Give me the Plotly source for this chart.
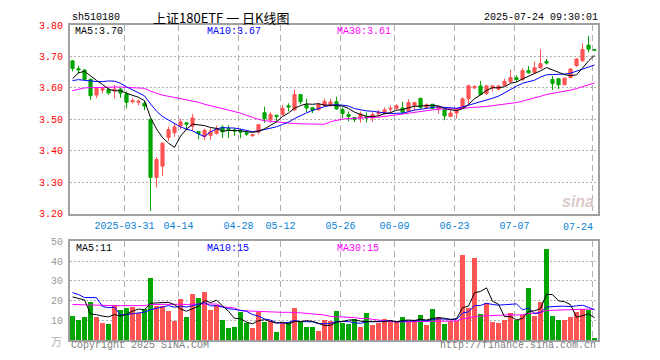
import math
import plotly.graph_objects as go
import numpy as np

# ---------------- data ----------------
dates = [
    "2025-03-18", "2025-03-19", "2025-03-20", "2025-03-21", "2025-03-24", "2025-03-25", "2025-03-26", "2025-03-27",
    "2025-03-28", "2025-03-31", "2025-04-01", "2025-04-02", "2025-04-03", "2025-04-07", "2025-04-08", "2025-04-09",
    "2025-04-10", "2025-04-11", "2025-04-14", "2025-04-15", "2025-04-16", "2025-04-17", "2025-04-18", "2025-04-21",
    "2025-04-22", "2025-04-23", "2025-04-24", "2025-04-25", "2025-04-28", "2025-04-29", "2025-04-30", "2025-05-06",
    "2025-05-07", "2025-05-08", "2025-05-09", "2025-05-12", "2025-05-13", "2025-05-14", "2025-05-15", "2025-05-16",
    "2025-05-19", "2025-05-20", "2025-05-21", "2025-05-22", "2025-05-23", "2025-05-26", "2025-05-27", "2025-05-28",
    "2025-05-29", "2025-05-30", "2025-06-03", "2025-06-04", "2025-06-05", "2025-06-06", "2025-06-09", "2025-06-10",
    "2025-06-11", "2025-06-12", "2025-06-13", "2025-06-16", "2025-06-17", "2025-06-18", "2025-06-19", "2025-06-20",
    "2025-06-23", "2025-06-24", "2025-06-25", "2025-06-26", "2025-06-27", "2025-06-30", "2025-07-01", "2025-07-02",
    "2025-07-03", "2025-07-04", "2025-07-07", "2025-07-08", "2025-07-09", "2025-07-10", "2025-07-11", "2025-07-14",
    "2025-07-15", "2025-07-16", "2025-07-17", "2025-07-18", "2025-07-21", "2025-07-22", "2025-07-23", "2025-07-24",
]

opens = [
    3.686, 3.661, 3.657, 3.627, 3.577, 3.593, 3.595, 3.592, 3.596, 3.581,
    3.556, 3.554, 3.551, 3.500, 3.315, 3.351, 3.442, 3.457, 3.479, 3.489,
    3.478, 3.461, 3.445, 3.449, 3.455, 3.475, 3.470, 3.466, 3.463, 3.457,
    3.448, 3.459, 3.521, 3.498, 3.513, 3.515, 3.543, 3.530, 3.579, 3.546,
    3.537, 3.530, 3.544, 3.545, 3.556, 3.531, 3.515, 3.506, 3.504, 3.509,
    3.504, 3.518, 3.519, 3.532, 3.535, 3.536, 3.526, 3.543, 3.567, 3.538,
    3.548, 3.533, 3.530, 3.509, 3.520, 3.538, 3.565, 3.600, 3.606, 3.582,
    3.602, 3.596, 3.608, 3.619, 3.632, 3.626, 3.655, 3.649, 3.664, 3.684,
    3.627, 3.629, 3.610, 3.633, 3.671, 3.686, 3.736, 3.721,
]
highs = [
    3.688, 3.670, 3.659, 3.630, 3.603, 3.601, 3.600, 3.610, 3.601, 3.589,
    3.567, 3.563, 3.558, 3.500, 3.380, 3.426, 3.477, 3.486, 3.502, 3.489,
    3.517, 3.461, 3.470, 3.472, 3.480, 3.481, 3.481, 3.471, 3.470, 3.462,
    3.454, 3.484, 3.540, 3.523, 3.513, 3.546, 3.551, 3.595, 3.580, 3.565,
    3.538, 3.553, 3.566, 3.566, 3.572, 3.538, 3.525, 3.506, 3.525, 3.522,
    3.523, 3.530, 3.538, 3.544, 3.548, 3.556, 3.564, 3.556, 3.567, 3.550,
    3.548, 3.544, 3.530, 3.530, 3.537, 3.570, 3.610, 3.608, 3.622, 3.610,
    3.608, 3.610, 3.629, 3.658, 3.640, 3.663, 3.669, 3.684, 3.723, 3.692,
    3.638, 3.629, 3.631, 3.663, 3.695, 3.742, 3.765, 3.721,
]
lows = [
    3.652, 3.645, 3.626, 3.562, 3.567, 3.583, 3.578, 3.566, 3.568, 3.535,
    3.550, 3.544, 3.529, 3.208, 3.283, 3.320, 3.431, 3.444, 3.468, 3.465,
    3.462, 3.437, 3.434, 3.434, 3.451, 3.441, 3.441, 3.447, 3.440, 3.447,
    3.444, 3.452, 3.489, 3.489, 3.492, 3.512, 3.525, 3.527, 3.548, 3.523,
    3.520, 3.527, 3.540, 3.540, 3.530, 3.504, 3.494, 3.491, 3.489, 3.490,
    3.492, 3.506, 3.515, 3.520, 3.531, 3.519, 3.525, 3.527, 3.533, 3.533,
    3.532, 3.517, 3.497, 3.507, 3.502, 3.535, 3.548, 3.596, 3.577, 3.577,
    3.588, 3.592, 3.606, 3.616, 3.619, 3.623, 3.645, 3.646, 3.660, 3.674,
    3.593, 3.596, 3.608, 3.629, 3.667, 3.683, 3.713, 3.720,
]
closes = [
    3.662, 3.657, 3.627, 3.575, 3.598, 3.597, 3.584, 3.596, 3.583, 3.554,
    3.560, 3.557, 3.542, 3.315, 3.372, 3.424, 3.467, 3.476, 3.492, 3.484,
    3.504, 3.455, 3.465, 3.462, 3.469, 3.460, 3.467, 3.463, 3.459, 3.453,
    3.451, 3.483, 3.502, 3.515, 3.509, 3.535, 3.539, 3.579, 3.556, 3.536,
    3.529, 3.548, 3.557, 3.555, 3.533, 3.518, 3.509, 3.499, 3.517, 3.504,
    3.515, 3.522, 3.530, 3.535, 3.543, 3.523, 3.553, 3.553, 3.538, 3.546,
    3.535, 3.540, 3.511, 3.520, 3.532, 3.565, 3.607, 3.604, 3.579, 3.606,
    3.606, 3.606, 3.621, 3.633, 3.627, 3.655, 3.648, 3.664, 3.677, 3.679,
    3.614, 3.610, 3.631, 3.660, 3.692, 3.722, 3.723, 3.720,
]
volumes = [
    12, 10, 11.5, 19, 11.5, 8.5, 8, 17.5, 15, 16,
    16.5, 13.5, 15.5, 31.5, 17, 17, 14.5, 9.5, 20.5, 11.5,
    23, 21, 24, 15, 17.5, 10, 6, 6.5, 14, 8.5,
    6, 14, 9, 9.5, 4, 8.5, 9, 16, 9, 6.5,
    6.5, 4.5, 10, 9.5, 14.5, 8.5, 8, 10.3, 6.5, 13.5,
    7.5, 8.5, 10.5, 9.5, 9.5, 11.5, 9.5, 9.5, 12.5, 7.5,
    15.5, 11.5, 8, 9.5, 9.5, 43, 16, 41.5, 13, 18.5,
    9, 8.5, 10, 13.5, 10, 12.5, 26, 12, 19, 46,
    12, 10, 10, 11.5, 14, 15.5, 15, 0.5,
]
# sessions before the visible window (estimated), needed for the moving averages
prior_closes = [
    3.50, 3.52, 3.55, 3.57, 3.58, 3.59, 3.57, 3.58, 3.60, 3.59,
    3.58, 3.57, 3.59, 3.60, 3.58, 3.57, 3.59, 3.58, 3.60, 3.59,
    3.625, 3.650, 3.600, 3.610, 3.600, 3.563, 3.603, 3.650, 3.667,
]
prior_volumes = [
    14, 16, 15, 13, 17, 15, 14, 16, 15, 15,
    14, 16, 15, 15, 14, 16, 15, 15, 15, 15,
    20, 26.5, 19, 12, 53.5, 13.5, 15.5, 55, 13,
]
tick_dates = ["2025-03-31", "2025-04-14", "2025-04-28", "2025-05-12", "2025-05-26",
              "2025-06-09", "2025-06-23", "2025-07-07", "2025-07-24"]
tick_labels = ["2025-03-31", "04-14", "04-28", "05-12", "05-26", "06-09", "06-23", "07-07", "07-24"]
price_ticks = [3.20, 3.30, 3.40, 3.50, 3.60, 3.70, 3.80]
volume_ticks = [10, 20, 30, 40, 50]
symbol = "sh510180"
title_text = "上证180ETF 一 日K线图"
timestamp = "2025-07-24 09:30:01"

# ---------------- derived ----------------
n = len(dates)
xi = np.arange(n)
allc = np.array(prior_closes + closes, dtype=float)
allv = np.array(prior_volumes + volumes, dtype=float)
P = len(prior_closes)


def ma(arr, k):
    return np.array([arr[P + i - k + 1:P + i + 1].mean() for i in range(n)])


def trunc(v, d):
    f = 10 ** d
    return math.floor(v * f + 1e-9) / f


ma5, ma10, ma30 = ma(allc, 5), ma(allc, 10), ma(allc, 30)
vma5, vma10, vma30 = ma(allv, 5), ma(allv, 10), ma(allv, 30)

RED = "#ff5454"
GREEN = "#00a600"
MA_COLORS = ["#000000", "#0000ff", "#ff00ff"]
GRID = "#b0b0b0"
FRAME = "#a0a0a0"
MONO = "Liberation Mono, DejaVu Sans Mono, monospace"
TICKBLUE = "#0a7fd2"

bar_colors = [RED if c >= o else GREEN for o, c in zip(opens, closes)]

fig = go.Figure()
fig.add_trace(go.Candlestick(
    x=xi, open=opens, high=highs, low=lows, close=closes,
    increasing=dict(line=dict(color=RED, width=1), fillcolor=RED),
    decreasing=dict(line=dict(color=GREEN, width=1), fillcolor=GREEN),
    whiskerwidth=0, showlegend=False, hoverinfo="skip", xaxis="x", yaxis="y"))
for arr, col in zip([ma30, ma10, ma5], MA_COLORS[::-1]):
    fig.add_trace(go.Scatter(x=xi, y=arr, mode="lines", line=dict(color=col, width=1),
                             showlegend=False, hoverinfo="skip", xaxis="x", yaxis="y"))

fig.add_trace(go.Bar(x=xi, y=volumes, marker=dict(color=bar_colors, line=dict(width=0)),
                     width=0.82, showlegend=False, hoverinfo="skip", xaxis="x2", yaxis="y2"))
for arr, col in zip([vma30, vma10, vma5], MA_COLORS[::-1]):
    fig.add_trace(go.Scatter(x=xi, y=arr, mode="lines", line=dict(color=col, width=1),
                             showlegend=False, hoverinfo="skip", xaxis="x2", yaxis="y2"))

# page geometry (the page body adds an 8px offset to the figure)
OFF = 8
W, H = 660 - OFF, 360 - OFF
PL, PR, PT, PB = 70, 598, 21, 340          # plot frame in page pixels
L, T = PL - OFF, PT - OFF
R, B = W - (PR - OFF), H - (PB - OFF)
pw, ph = PR - PL, PB - PT


def px_x(p):
    return (p - PL) / pw


def px_y(p):
    return (PB - p) / ph


tick_pos = [dates.index(d) - 0.35 for d in tick_dates]
xr = [-0.42, n - 1 + 0.58]

common_x = dict(range=xr, showgrid=True, gridcolor=GRID, griddash="6px,4px", gridwidth=1,
                showline=True, mirror=True, linecolor=FRAME, linewidth=2, zeroline=False,
                tickvals=tick_pos, ticks="", fixedrange=True)

fig.update_layout(
    width=W, height=H, margin=dict(l=L, r=R, t=T, b=B),
    paper_bgcolor="white", plot_bgcolor="white", boxgap=0.25, bargap=0,
    xaxis=dict(common_x, anchor="y", ticktext=tick_labels[:-1] + [""],
               tickfont=dict(family=MONO, size=10, color=TICKBLUE), ticklabelstandoff=1,
               rangeslider=dict(visible=False)),
    xaxis2=dict(common_x, anchor="y2", matches="x", showticklabels=False),
    yaxis=dict(domain=[px_y(212), 1], range=[3.2, 3.8], tickvals=price_ticks,
               ticktext=[f"{v:.2f}" for v in price_ticks], ticks="",
               tickfont=dict(family=MONO, size=10, color="#ff0000"),
               showgrid=True, gridcolor=GRID, griddash="2px,2px", showline=True, mirror=True,
               linecolor=FRAME, linewidth=2, zeroline=False, ticklabelstandoff=3),
    yaxis2=dict(domain=[0, px_y(240)], range=[0, 50], tickvals=volume_ticks,
                ticktext=[str(v) for v in volume_ticks], ticks="",
                tickfont=dict(family=MONO, size=10, color="#999999"),
                showgrid=True, gridcolor=GRID, griddash="2px,2px", showline=True, mirror=True,
                linecolor=FRAME, linewidth=2, zeroline=False, ticklabelstandoff=3),
)

ann = []


def add_text(text, x, y, color, size=10, xanchor="left", family=MONO):
    ann.append(dict(text=text, x=x, y=y, xref="paper", yref="paper", xanchor=xanchor,
                    yanchor="middle", showarrow=False, font=dict(family=family, size=size, color=color)))


add_text(symbol, px_x(70), px_y(13), "#000000")
add_text(title_text, px_x(151), px_y(13.5), "#000000", size=13,
         family="Noto Sans CJK SC, Liberation Mono, sans-serif")
add_text(timestamp, px_x(600), px_y(13), "#000000", xanchor="right")

for lbl, val, col, xp in zip(["MA5", "MA10", "MA30"], [ma5[-1], ma10[-1], ma30[-1]], MA_COLORS, [73, 205, 335]):
    add_text(f"{lbl}:{trunc(val, 2):.2f}", px_x(xp), px_y(28), col)
for lbl, val, col, xp in zip(["MA5", "MA10", "MA30"], [vma5[-1], vma10[-1], vma30[-1]], MA_COLORS, [74, 205, 335]):
    add_text(f"{lbl}:{int(trunc(val, 0))}", px_x(xp), px_y(247), col)

# last date label, right-aligned inside the frame
ann.append(dict(text=tick_labels[-1], x=n - 1, y=px_y(226), xref="x", yref="paper",
                xanchor="right", yanchor="middle", showarrow=False,
                font=dict(family=MONO, size=10, color=TICKBLUE)))

add_text("万", px_x(64), px_y(341), "#b0b0b0", size=11, xanchor="right",
         family="Noto Sans CJK SC, sans-serif")
add_text("Copyright 2025 SINA.COM", px_x(69), px_y(346), "#808080")
add_text("http://finance.sina.com.cn", px_x(598), px_y(346), "#808080", xanchor="right")
add_text("<i><b>sina</b></i>", px_x(596), px_y(200), "#d9c9c9", size=16, xanchor="right",
         family="Liberation Sans, Arial, sans-serif")

fig.update_layout(annotations=ann)
fig.write_html("out.html")
